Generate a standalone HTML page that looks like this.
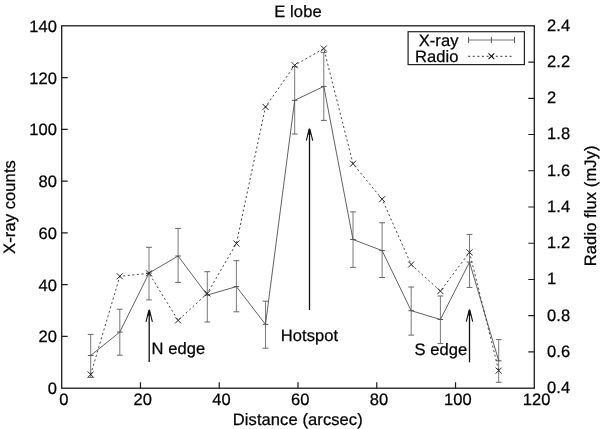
<!DOCTYPE html><html><head><meta charset="utf-8"><style>html,body{margin:0;padding:0;background:#fff;}svg{display:block;filter:grayscale(1)}text{font-family:"Liberation Sans",sans-serif;font-size:16.5px;fill:#000;stroke:#000;stroke-width:0.25px;letter-spacing:0.1px;text-rendering:geometricPrecision}</style></head><body>
<svg width="600" height="429" viewBox="0 0 600 429">
<rect width="600" height="429" fill="#fff"/>
<path d="M90.7 334.4V377.4M119.8 309.2V355.2M149.0 247.3V299.9M178.1 228.4V282.4M207.3 271.7V322.0M236.4 260.7V311.8M265.5 301.2V348.2M294.7 66.6V134.0M323.8 52.4V120.4M353.0 211.9V267.4M382.1 222.8V277.5M411.2 287.0V335.1M440.4 296.0V343.6M469.5 234.4V287.4M498.7 339.6V382.3" stroke="#7a7a7a" stroke-width="1" fill="none"/>
<path d="M87.8 334.4H93.6M87.8 377.4H93.6M116.9 309.2H122.7M116.9 355.2H122.7M146.1 247.3H151.9M146.1 299.9H151.9M175.2 228.4H181.0M175.2 282.4H181.0M204.4 271.7H210.2M204.4 322.0H210.2M233.5 260.7H239.3M233.5 311.8H239.3M262.6 301.2H268.4M262.6 348.2H268.4M291.8 66.6H297.6M291.8 134.0H297.6M320.9 52.4H326.7M320.9 120.4H326.7M350.1 211.9H355.9M350.1 267.4H355.9M379.2 222.8H385.0M379.2 277.5H385.0M408.3 287.0H414.1M408.3 335.1H414.1M437.5 296.0H443.3M437.5 343.6H443.3M466.6 234.4H472.4M466.6 287.4H472.4M495.8 339.6H501.6M495.8 382.3H501.6" stroke="#666" stroke-width="1" fill="none"/>
<polyline points="90.7,355.5 119.8,332.1 149.0,273.1 178.1,256.0 207.3,295.1 236.4,286.6 265.5,324.4 294.7,100.3 323.8,86.4 353.0,239.5 382.1,250.6 411.2,310.7 440.4,319.5 469.5,262.1 498.7,360.8" stroke="#444" stroke-width="0.85" fill="none"/>
<path d="M87.9 355.5H93.5M117.0 332.1H122.6M146.2 273.1H151.8M175.3 256.0H180.9M204.5 295.1H210.1M233.6 286.6H239.2M262.7 324.4H268.3M291.9 100.3H297.5M321.0 86.4H326.6M350.2 239.5H355.8M379.3 250.6H384.9M408.4 310.7H414.0M437.6 319.5H443.2M466.7 262.1H472.3M495.9 360.8H501.5" stroke="#555" stroke-width="1" fill="none"/>
<polyline points="90.7,374.5 119.8,276.3 149.0,273.3 178.1,320.4 207.3,293.4 236.4,243.5 265.5,106.9 294.7,65.3 323.8,48.5 353.0,163.7 382.1,199.2 411.2,264.5 440.4,291.1 469.5,252.3 498.7,370.6" stroke="#3a3a3a" stroke-width="0.95" stroke-dasharray="2 2.6" fill="none"/>
<path d="M87.7 371.5L93.7 377.5M87.7 377.5L93.7 371.5M116.8 273.3L122.8 279.3M116.8 279.3L122.8 273.3M146.0 270.3L152.0 276.3M146.0 276.3L152.0 270.3M175.1 317.4L181.1 323.4M175.1 323.4L181.1 317.4M204.3 290.4L210.3 296.4M204.3 296.4L210.3 290.4M233.4 240.5L239.4 246.5M233.4 246.5L239.4 240.5M262.5 103.9L268.5 109.9M262.5 109.9L268.5 103.9M291.7 62.3L297.7 68.3M291.7 68.3L297.7 62.3M320.8 45.5L326.8 51.5M320.8 51.5L326.8 45.5M350.0 160.7L356.0 166.7M350.0 166.7L356.0 160.7M379.1 196.2L385.1 202.2M379.1 202.2L385.1 196.2M408.2 261.5L414.2 267.5M408.2 267.5L414.2 261.5M437.4 288.1L443.4 294.1M437.4 294.1L443.4 288.1M466.5 249.3L472.5 255.3M466.5 255.3L472.5 249.3M495.7 367.6L501.7 373.6M495.7 373.6L501.7 367.6" stroke="#1a1a1a" stroke-width="0.95" fill="none"/>
<path d="M149.2 362V312.7" stroke="#111" stroke-width="1.3" fill="none"/><path d="M146.0 321.9L148.89999999999998 310.2M152.39999999999998 321.9L149.5 310.2" stroke="#111" stroke-width="1.1" fill="none"/><path d="M147.5 315.7L149.2 308.7L150.89999999999998 315.7Z" fill="#111"/>
<path d="M309.5 310V131.4" stroke="#111" stroke-width="1.3" fill="none"/><path d="M306.3 140.6L309.2 128.9M312.7 140.6L309.8 128.9" stroke="#111" stroke-width="1.1" fill="none"/><path d="M307.8 134.4L309.5 127.4L311.2 134.4Z" fill="#111"/>
<path d="M469.5 362.3V312.4" stroke="#111" stroke-width="1.3" fill="none"/><path d="M466.3 321.59999999999997L469.2 309.9M472.7 321.59999999999997L469.8 309.9" stroke="#111" stroke-width="1.1" fill="none"/><path d="M467.8 315.4L469.5 308.4L471.2 315.4Z" fill="#111"/>
<rect x="61.7" y="25.8" width="472.59999999999997" height="362.4" stroke="#1c1c1c" stroke-width="1.3" fill="none"/>
<path d="M61.7 336.43H67.7M61.7 284.66H67.7M61.7 232.89H67.7M61.7 181.11H67.7M61.7 129.34H67.7M61.7 77.57H67.7M140.47 388.2V382.2M219.23 388.2V382.2M298.00 388.2V382.2M376.77 388.2V382.2M455.53 388.2V382.2M534.3 351.96H528.3M534.3 315.72H528.3M534.3 279.48H528.3M534.3 243.24H528.3M534.3 207.00H528.3M534.3 170.76H528.3M534.3 134.52H528.3M534.3 98.28H528.3M534.3 62.04H528.3" stroke="#1c1c1c" stroke-width="1.2" fill="none"/>
<text x="57" y="394.1" text-anchor="end">0</text>
<text x="57" y="342.3" text-anchor="end">20</text>
<text x="57" y="290.6" text-anchor="end">40</text>
<text x="57" y="238.8" text-anchor="end">60</text>
<text x="57" y="187.0" text-anchor="end">80</text>
<text x="57" y="135.2" text-anchor="end">100</text>
<text x="57" y="83.5" text-anchor="end">120</text>
<text x="57" y="31.7" text-anchor="end">140</text>
<text x="64.0" y="405.2" text-anchor="middle">0</text>
<text x="142.8" y="405.2" text-anchor="middle">20</text>
<text x="221.5" y="405.2" text-anchor="middle">40</text>
<text x="300.3" y="405.2" text-anchor="middle">60</text>
<text x="379.1" y="405.2" text-anchor="middle">80</text>
<text x="457.8" y="405.2" text-anchor="middle">100</text>
<text x="536.6" y="405.2" text-anchor="middle">120</text>
<text x="547" y="393.1">0.4</text>
<text x="547" y="356.9">0.6</text>
<text x="547" y="320.6">0.8</text>
<text x="547" y="284.4">1</text>
<text x="547" y="248.1">1.2</text>
<text x="547" y="211.9">1.4</text>
<text x="547" y="175.7">1.6</text>
<text x="547" y="139.4">1.8</text>
<text x="547" y="103.2">2</text>
<text x="547" y="66.9">2.2</text>
<text x="547" y="30.7">2.4</text>
<text x="298" y="16.7" text-anchor="middle">E lobe</text>
<text x="297.8" y="424.5" text-anchor="middle">Distance (arcsec)</text>
<text transform="translate(14.8,207) rotate(-90)" text-anchor="middle">X-ray counts</text>
<text transform="translate(596,205.8) rotate(-90)" text-anchor="middle">Radio flux (mJy)</text>
<text x="151.6" y="354.3">N edge</text>
<text x="309.5" y="341.3" text-anchor="middle">Hotspot</text>
<text x="467.4" y="354.6" text-anchor="end">S edge</text>
<rect x="408.1" y="31.7" width="116.3" height="32.9" stroke="#222" stroke-width="1.2" fill="#fff"/>
<text x="458.6" y="45.8" text-anchor="end">X-ray</text>
<text x="458.6" y="61.5" text-anchor="end">Radio</text>
<path d="M468.5 40H514.5" stroke="#7a7a7a" stroke-width="1.1" fill="none"/>
<path d="M468.5 37V43M514.5 37V43M491.4 37V43" stroke="#555" stroke-width="1" fill="none"/>
<path d="M468.2 56.3H513" stroke="#333" stroke-width="1" stroke-dasharray="2 2.6" fill="none"/>
<path d="M488.5 53.4L494.3 59.2M488.5 59.2L494.3 53.4" stroke="#111" stroke-width="1.05" fill="none"/>
</svg></body></html>
